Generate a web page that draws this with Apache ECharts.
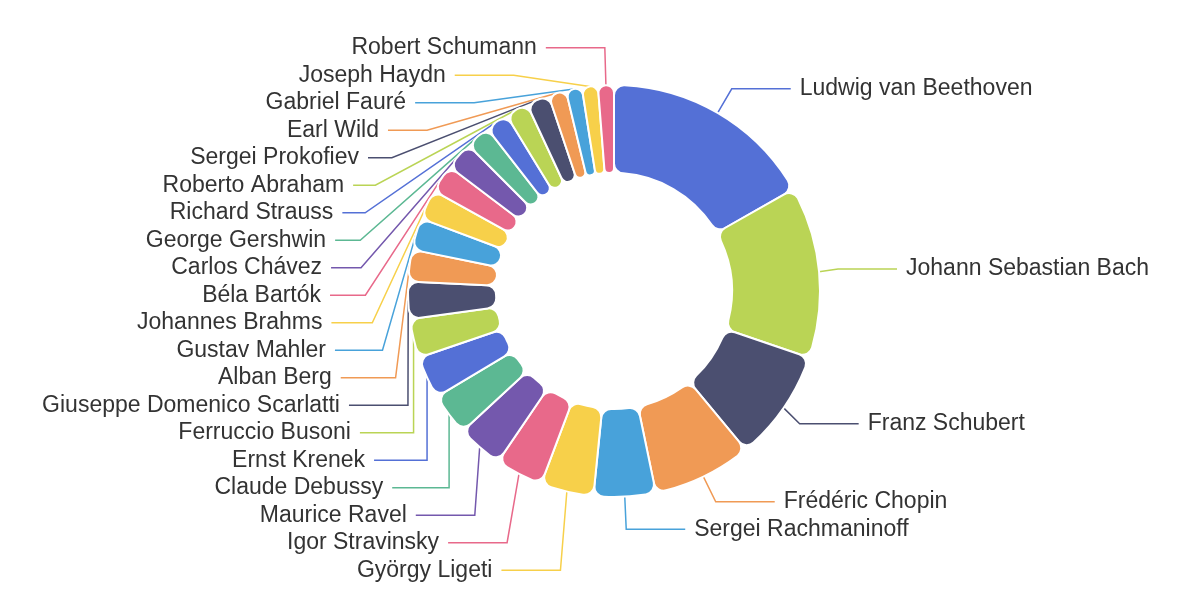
<!DOCTYPE html>
<html>
<head>
<meta charset="utf-8">
<title>Composers</title>
<script src="https://cdn.jsdelivr.net/npm/echarts@6/dist/echarts.min.js"></script>
<style>
	html, body { margin: 0; padding: 0; background: #fff; }
	#main { width: 1200px; height: 600px; }
</style>
</head>
<body>
<div id="main"></div>
<script>
// 작곡가 이름 (시계방향 순서)
let composers = ['Ludwig van Beethoven', 'Johann Sebastian Bach', 'Franz Schubert', 'Frédéric Chopin',
	'Sergei Rachmaninoff', 'György Ligeti', 'Igor Stravinsky', 'Maurice Ravel', 'Claude Debussy',
	'Ernst Krenek', 'Ferruccio Busoni', 'Giuseppe Domenico Scarlatti', 'Alban Berg', 'Gustav Mahler',
	'Johannes Brahms', 'Béla Bartók', 'Carlos Chávez', 'George Gershwin', 'Richard Strauss',
	'Roberto Abraham', 'Sergei Prokofiev', 'Earl Wild', 'Gabriel Fauré', 'Joseph Haydn', 'Robert Schumann'];
// 각 작곡가의 값
let counts = [121, 97, 63, 56, 35, 30, 27, 26, 24, 24, 22, 21, 18, 18, 17, 16, 16, 14, 13, 13, 13, 10, 9, 9, 9];
// 조각 색상 (순서대로 반복)
let palette = ['#5470d6', '#bad455', '#4b4f70', '#f09a55', '#48a2da', '#f7d04a', '#e8698a', '#7458ad', '#5cb893'];

let pieData = [];
for (let i = 0; i < composers.length; i++) {
	pieData.push({ name: composers[i], value: counts[i] });
}

var myChart = echarts.init(document.getElementById('main'));
var option = {
	animation: false,
	color: palette,
	series: [
		{
			type: 'pie',
			left: 0,
			top: 0,
			right: 0,
			bottom: 16,
			center: [614, 291],
			radius: [118, 206],
			startAngle: 90,
			clockwise: true,
			itemStyle: {
				borderColor: '#fff',
				borderWidth: 2,
				borderRadius: 10
			},
			label: {
				color: '#333',
				fontSize: 23,
				fontFamily: 'Liberation Sans, Arial, sans-serif',
				minMargin: 4.5,
				distanceToLabelLine: 9
			},
			labelLine: {
				length: 28,
				length2: 59,
				lineStyle: { width: 1.5 }
			},
			data: pieData
		}
	]
};
myChart.setOption(option);
</script>
</body>
</html>
